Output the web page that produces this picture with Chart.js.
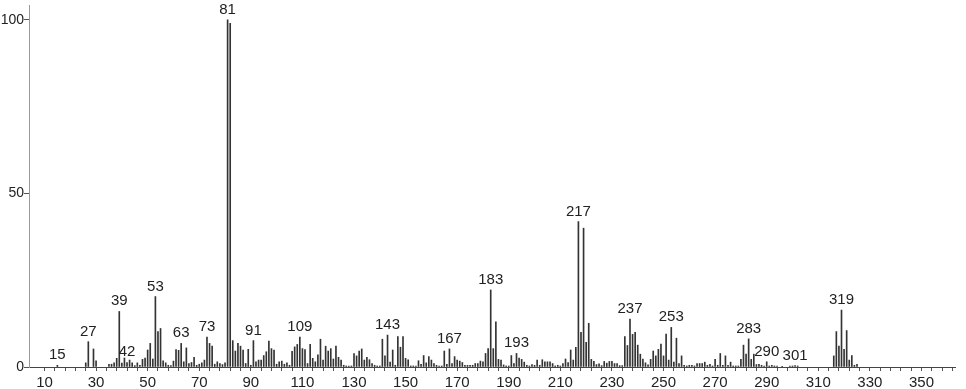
<!DOCTYPE html>
<html>
<head>
<meta charset="utf-8">
<script src="https://cdn.jsdelivr.net/npm/chart.js@4/dist/chart.umd.min.js"></script>
<style>
  body { margin: 0; background: #fff; }
</style>
</head>
<body>
<canvas id="spec" width="966" height="389"></canvas>
<script>
// m/z values and relative intensities (%)
const mz = [
  15, 26, 27, 29, 30, 35, 36, 37, 38, 39, 40, 41, 42, 43, 44, 45, 46, 47, 48, 49,
  50, 51, 52, 53, 54, 55, 56, 57, 58, 59, 60, 61, 62, 63, 64, 65, 66, 67, 68, 69,
  70, 71, 72, 73, 74, 75, 76, 77, 78, 79, 80, 81, 82, 83, 84, 85, 86, 87, 88, 89,
  90, 91, 92, 93, 94, 95, 96, 97, 98, 99, 100, 101, 102, 103, 104, 105, 106, 107, 108, 109,
  110, 111, 112, 113, 114, 115, 116, 117, 118, 119, 120, 121, 122, 123, 124, 125, 126, 127, 128, 129,
  130, 131, 132, 133, 134, 135, 136, 137, 138, 139, 140, 141, 142, 143, 144, 145, 146, 147, 148, 149,
  150, 151, 152, 153, 154, 155, 156, 157, 158, 159, 160, 161, 162, 163, 164, 165, 166, 167, 168, 169,
  170, 171, 172, 173, 174, 175, 176, 177, 178, 179, 180, 181, 182, 183, 184, 185, 186, 187, 188, 189,
  190, 191, 192, 193, 194, 195, 196, 197, 198, 199, 200, 201, 202, 203, 204, 205, 206, 207, 208, 209,
  210, 211, 212, 213, 214, 215, 216, 217, 218, 219, 220, 221, 222, 223, 224, 225, 226, 227, 228, 229,
  230, 231, 232, 233, 234, 235, 236, 237, 238, 239, 240, 241, 242, 243, 244, 245, 246, 247, 248, 249,
  250, 251, 252, 253, 254, 255, 256, 257, 258, 259, 260, 261, 262, 263, 264, 265, 266, 267, 268, 269,
  270, 271, 272, 273, 274, 275, 276, 277, 278, 279, 280, 281, 282, 283, 284, 285, 286, 287, 288, 289,
  290, 291, 292, 293, 294, 296, 299, 300, 301, 302,
  316, 317, 318, 319, 320, 321, 322, 323, 324, 325
];
const intensity = [
  0.5, 1.2, 7.3, 5.2, 1.8, 0.8, 0.8, 1.2, 2.5, 16, 1.1, 2.6, 1.3, 2, 1.2, 0.4, 1.2, 0.5, 2.2, 2.6,
  4.9, 6.8, 2.3, 20.3, 10.2, 11.1, 1.8, 1.2, 0.5, 0.4, 1.7, 5, 4.8, 6.8, 1.5, 5.5, 1, 1.3, 2.8, 0.5,
  0.8, 1.2, 2, 8.6, 6.8, 6, 0.8, 1.5, 1, 0.7, 1.2, 100, 99, 7.6, 4.6, 6.8, 6, 4.9, 1, 5.1,
  0.5, 7.6, 1.5, 2, 2, 3.3, 4.4, 7.5, 5.3, 4.9, 0.8, 1.5, 1.7, 0.8, 1.2, 0.5, 4.5, 5.8, 6.5, 8.6,
  5.3, 5, 1, 6.5, 2.5, 1.5, 3.5, 8, 2, 6, 4.6, 5.3, 2.3, 6, 2.8, 2, 0.5, 0.3, 0.3, 0.3,
  3.9, 3.2, 4.6, 5.2, 2, 2.8, 2.1, 1, 0.5, 0.3, 0.3, 8, 3.2, 9.2, 1.4, 4.9, 0.5, 8.8, 5.7, 8.8,
  2.5, 2.1, 0.3, 0.3, 0.3, 1.8, 0.8, 3.3, 1.2, 3, 2, 1, 0.5, 0.3, 0.3, 4.6, 0.8, 5.2, 1, 3,
  2, 1.7, 1.3, 0.5, 0.5, 0.5, 0.5, 1, 1, 1.7, 1.5, 3.9, 5.3, 22.2, 5.3, 13, 2.2, 2, 0.6, 0.3,
  0.3, 3.3, 1, 3.9, 2.6, 2.2, 1.4, 0.5, 0.3, 0.7, 0.5, 2, 0.5, 2.1, 1.5, 1.5, 1.5, 1, 0.3, 0.5,
  0.3, 1, 2.3, 1.3, 4.9, 2, 5.7, 41.9, 10, 40, 7.1, 12.6, 2.2, 1.6, 0.7, 0.9, 0.4, 1.6, 1.1, 1.6,
  1.6, 1, 1, 0.4, 0.4, 8.8, 6.2, 13.8, 9.4, 10, 6.3, 3.7, 2.3, 1.2, 0.6, 2.2, 4.6, 3.2, 5.1, 6.6,
  3.2, 9.5, 2, 11.4, 1.4, 8.3, 1, 3.2, 0.5, 0.3, 0.5, 0.5, 0.3, 1, 1, 1, 1.4, 0.5, 0.8, 0.3,
  2.2, 0.5, 3.9, 0.5, 3.2, 0.5, 1.4, 0.3, 0.3, 0.3, 2.2, 6.3, 3.7, 8.1, 2.2, 3.7, 0.7, 0.8, 0.5, 0.3,
  1.5, 0.3, 0.5, 0.3, 0.3, 0.2, 0.3, 0.3, 0.4, 0.3,
  3.2, 10.2, 6, 16.4, 5.1, 10.5, 2, 3.3, 0.5, 0.8
];
// peaks that carry their m/z above the bar
const labelledPeaks = [15, 27, 39, 42, 53, 63, 73, 81, 91, 109, 143, 167, 183, 193, 217, 237, 253, 283, 290, 301, 319];
const yTicks = [0, 50, 100];

const FONT = "'Liberation Sans', Arial, sans-serif";

const peakLabelPlugin = {
  id: 'peakLabels',
  afterDatasetsDraw(chart) {
    const ctx = chart.ctx;
    const xs = chart.scales.x, ys = chart.scales.y;
    ctx.save();
    ctx.fillStyle = '#222';
    ctx.font = '15px ' + FONT;
    ctx.textAlign = 'center';
    ctx.textBaseline = 'alphabetic';
    labelledPeaks.forEach(m => {
      const i = mz.indexOf(m);
      if (i < 0) return;
      const px = xs.getPixelForValue(m);
      const py = ys.getPixelForValue(intensity[i]);
      ctx.fillText(String(m), px, py - 6);
    });
    ctx.restore();
  }
};

new Chart(document.getElementById('spec'), {
  type: 'bar',
  data: {
    datasets: [{
      data: mz.map((m, i) => ({ x: m, y: intensity[i] })),
      backgroundColor: '#333',
      barThickness: 1,
      grouped: false
    }]
  },
  options: {
    responsive: false,
    animation: false,
    layout: { padding: { top: 5, right: 11, left: 0, bottom: 0 } },
    plugins: { legend: { display: false }, tooltip: { enabled: false } },
    scales: {
      x: {
        type: 'linear',
        min: 4,
        max: 363,
        offset: false,
        afterBuildTicks: scale => {
          const t = [];
          for (let v = 10; v <= 362; v += 4) t.push({ value: v });
          scale.ticks = t;
        },
        afterFit: scale => {
          scale.height = 22;
          scale.paddingLeft = 0;
          scale.paddingRight = 0;
        },
        border: { color: '#444', width: 1 },
        grid: { drawOnChartArea: false, offset: false, tickLength: 4, color: '#555' },
        ticks: {
          autoSkip: false,
          maxRotation: 0,
          padding: 3,
          color: '#222',
          font: { family: FONT, size: 15 },
          callback: v => ((v - 10) % 20 === 0 ? String(v) : '')
        }
      },
      y: {
        min: 0,
        max: 104.3,
        afterBuildTicks: scale => { scale.ticks = yTicks.map(v => ({ value: v })); },
        afterFit: scale => {
          scale.width = 29;
          scale.paddingTop = 0;
          scale.paddingBottom = 0;
        },
        border: { color: '#999', width: 1 },
        grid: { drawOnChartArea: false, tickLength: 5, color: '#555' },
        ticks: {
          padding: 0,
          color: '#222',
          font: { family: FONT, size: 14 }
        }
      }
    }
  },
  plugins: [peakLabelPlugin]
});
</script>
</body>
</html>
